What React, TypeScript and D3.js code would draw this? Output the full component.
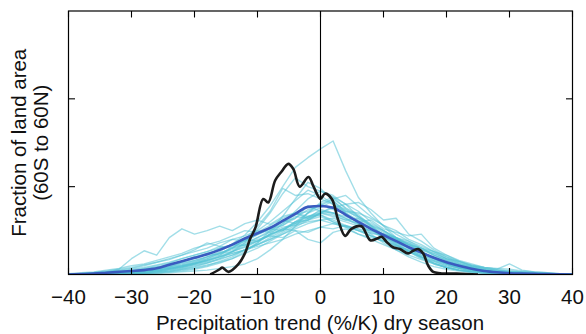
import React from 'react';
import * as d3 from 'd3';

// x grid (precipitation trend, %/K) shared by the model curves
const trendGrid = [-40,-38,-36,-34,-32,-30,-28,-26,-24,-22,-20,-18,-16,-14,-12,-10,-8,-6,-4,-2,0,2,4,6,8,10,12,14,16,18,20,22,24,26,28,30,32,34,36,38,40];

// individual model curves (fraction of land area, arbitrary units; y ticks at 1 and 2)
const run01 = [0,0.01,0.02,0.03,0.06,0.18,0.27,0.22,0.42,0.52,0.46,0.50,0.55,0.50,0.58,0.62,0.57,0.66,0.70,0.64,0.68,0.60,0.55,0.50,0.44,0.40,0.33,0.27,0.20,0.15,0.10,0.07,0.04,0.03,0.02,0.01,0.01,0.005,0,0,0];
const run02 = [0,0,0.005,0.01,0.015,0.02,0.03,0.05,0.07,0.10,0.14,0.20,0.26,0.35,0.45,0.60,0.78,1.00,1.22,1.33,1.43,1.52,1.18,0.88,0.70,0.55,0.42,0.30,0.20,0.13,0.08,0.05,0.03,0.02,0.01,0.01,0.005,0,0,0,0];
const run03 = [0,0,0,0.005,0.01,0.01,0.02,0.03,0.04,0.06,0.09,0.13,0.18,0.26,0.36,0.52,0.70,0.92,1.10,1.00,0.95,0.88,0.75,0.66,0.55,0.45,0.36,0.27,0.20,0.13,0.08,0.05,0.03,0.02,0.01,0.005,0,0,0,0,0];
const run04 = [0,0.01,0.01,0.02,0.04,0.03,0.06,0.09,0.08,0.14,0.18,0.24,0.22,0.32,0.38,0.45,0.52,0.58,0.68,0.72,0.80,0.74,0.70,0.58,0.54,0.44,0.40,0.30,0.26,0.18,0.14,0.09,0.06,0.04,0.03,0.02,0.01,0.01,0,0,0];
const run05 = [0,0.01,0.02,0.03,0.04,0.06,0.08,0.11,0.14,0.18,0.22,0.26,0.30,0.34,0.33,0.40,0.44,0.42,0.50,0.48,0.54,0.52,0.56,0.50,0.47,0.44,0.40,0.36,0.30,0.26,0.20,0.15,0.10,0.07,0.05,0.03,0.03,0.02,0.01,0.005,0];
const run06 = [0,0.005,0.01,0.02,0.03,0.04,0.06,0.08,0.12,0.15,0.20,0.24,0.28,0.34,0.40,0.38,0.46,0.52,0.50,0.40,0.36,0.48,0.52,0.46,0.42,0.38,0.34,0.28,0.25,0.20,0.15,0.10,0.07,0.05,0.03,0.02,0.01,0.01,0.005,0,0];
const run07 = [0,0,0.005,0.01,0.01,0.02,0.03,0.04,0.06,0.08,0.11,0.14,0.18,0.22,0.28,0.34,0.40,0.48,0.56,0.64,0.70,0.76,0.80,0.82,0.74,0.62,0.64,0.46,0.38,0.28,0.20,0.13,0.09,0.06,0.04,0.03,0.02,0.01,0.005,0,0];
const run08 = [0,0,0.005,0.01,0.02,0.02,0.04,0.05,0.07,0.10,0.13,0.16,0.21,0.26,0.31,0.38,0.45,0.52,0.60,0.66,0.72,0.70,0.66,0.60,0.62,0.52,0.48,0.44,0.46,0.30,0.22,0.15,0.10,0.07,0.05,0.04,0.03,0.02,0.01,0.005,0];
const run09 = [0,0,0,0,0.005,0.01,0.01,0.02,0.03,0.05,0.07,0.10,0.15,0.20,0.28,0.36,0.46,0.58,0.72,0.86,0.95,0.90,0.80,0.66,0.56,0.44,0.34,0.26,0.18,0.12,0.08,0.05,0.03,0.02,0.01,0.005,0,0,0,0,0];
const run10 = [0.01,0.02,0.03,0.05,0.07,0.10,0.12,0.16,0.20,0.24,0.30,0.34,0.38,0.44,0.50,0.48,0.56,0.64,0.70,0.66,0.68,0.62,0.56,0.52,0.44,0.38,0.32,0.26,0.20,0.15,0.10,0.07,0.05,0.03,0.02,0.015,0.01,0.01,0.005,0,0];
const run11 = [0,0.005,0.01,0.015,0.02,0.04,0.05,0.08,0.10,0.13,0.16,0.20,0.25,0.28,0.36,0.42,0.48,0.62,0.58,0.70,0.76,0.84,0.72,0.66,0.58,0.50,0.42,0.36,0.28,0.22,0.16,0.11,0.08,0.05,0.03,0.02,0.015,0.01,0.005,0,0];
const run12 = [0,0,0.005,0.01,0.015,0.02,0.03,0.05,0.07,0.09,0.12,0.17,0.22,0.30,0.40,0.55,0.72,0.98,0.90,0.92,0.86,0.80,0.70,0.62,0.52,0.42,0.34,0.26,0.19,0.13,0.08,0.05,0.03,0.02,0.01,0.005,0,0,0,0,0];
const run13 = [0,0,0.005,0.01,0.01,0.02,0.03,0.04,0.06,0.08,0.12,0.15,0.20,0.24,0.28,0.34,0.40,0.46,0.52,0.58,0.62,0.64,0.60,0.55,0.50,0.46,0.40,0.34,0.28,0.24,0.18,0.15,0.11,0.08,0.06,0.12,0.05,0.03,0.02,0.01,0];
const run14 = [0,0,0.005,0.01,0.02,0.03,0.04,0.06,0.09,0.12,0.16,0.20,0.24,0.30,0.34,0.42,0.50,0.56,0.64,0.74,0.78,0.86,0.76,0.68,0.56,0.50,0.40,0.34,0.26,0.19,0.13,0.09,0.06,0.04,0.03,0.02,0.01,0.01,0.005,0,0];
const run15 = [0,0,0,0,0,0.005,0.01,0.01,0.02,0.03,0.04,0.05,0.07,0.09,0.12,0.18,0.28,0.40,0.55,0.70,0.82,0.88,0.80,0.72,0.60,0.50,0.42,0.34,0.26,0.18,0.12,0.07,0.04,0.03,0.02,0.01,0.005,0,0,0,0];
const run16 = [0,0.005,0.01,0.02,0.03,0.05,0.07,0.10,0.13,0.18,0.22,0.26,0.32,0.30,0.40,0.46,0.52,0.56,0.66,0.64,0.74,0.70,0.64,0.56,0.50,0.42,0.36,0.30,0.22,0.18,0.12,0.08,0.06,0.04,0.03,0.02,0.01,0.01,0.005,0,0];
const run17 = [0,0,0,0.005,0.01,0.015,0.02,0.04,0.06,0.09,0.13,0.18,0.24,0.30,0.38,0.50,0.60,0.72,0.84,0.96,0.90,0.80,0.74,0.64,0.56,0.48,0.40,0.32,0.26,0.18,0.12,0.08,0.05,0.03,0.02,0.015,0.01,0.005,0,0,0];
const run18 = [0,0.01,0.02,0.04,0.06,0.08,0.11,0.14,0.18,0.22,0.28,0.36,0.32,0.40,0.44,0.50,0.48,0.54,0.56,0.60,0.62,0.58,0.54,0.50,0.44,0.38,0.32,0.28,0.22,0.16,0.12,0.08,0.06,0.04,0.03,0.02,0.015,0.01,0.005,0,0];
const run19 = [0,0,0,0.005,0.01,0.01,0.02,0.03,0.04,0.06,0.08,0.11,0.14,0.18,0.24,0.30,0.38,0.46,0.54,0.62,0.70,0.78,0.72,0.70,0.64,0.56,0.50,0.40,0.34,0.26,0.18,0.12,0.08,0.05,0.03,0.02,0.02,0.01,0.005,0,0];
const run20 = [0,0.005,0.01,0.02,0.025,0.04,0.05,0.07,0.12,0.14,0.20,0.22,0.30,0.34,0.42,0.46,0.54,0.60,0.64,0.78,0.72,0.70,0.64,0.58,0.48,0.44,0.36,0.30,0.24,0.16,0.12,0.08,0.05,0.03,0.02,0.015,0.01,0.005,0,0,0];
const run21 = [0,0,0,0.005,0.01,0.015,0.02,0.03,0.05,0.07,0.10,0.13,0.17,0.22,0.28,0.34,0.42,0.50,0.60,0.70,0.80,0.86,0.90,0.78,0.66,0.56,0.46,0.38,0.30,0.22,0.16,0.11,0.08,0.05,0.04,0.03,0.02,0.01,0.005,0,0];
const run22 = [0,0.01,0.02,0.03,0.05,0.07,0.10,0.14,0.17,0.22,0.26,0.30,0.36,0.40,0.38,0.46,0.52,0.50,0.58,0.62,0.66,0.60,0.54,0.46,0.40,0.34,0.28,0.22,0.17,0.12,0.08,0.05,0.04,0.03,0.02,0.01,0.01,0.005,0,0,0];
const run23 = [0,0,0.005,0.01,0.015,0.02,0.03,0.05,0.07,0.09,0.12,0.16,0.20,0.26,0.32,0.38,0.44,0.52,0.58,0.66,0.70,0.68,0.62,0.58,0.52,0.46,0.40,0.34,0.30,0.24,0.18,0.14,0.10,0.08,0.07,0.06,0.04,0.03,0.02,0.01,0];
const run24 = [0,0,0,0,0.005,0.01,0.01,0.02,0.03,0.04,0.06,0.09,0.13,0.18,0.26,0.36,0.50,0.66,0.86,1.05,0.98,0.84,0.70,0.58,0.46,0.36,0.28,0.20,0.14,0.09,0.06,0.04,0.02,0.01,0.01,0.005,0,0,0,0,0];
const run25 = [0,0.005,0.01,0.015,0.02,0.03,0.05,0.06,0.09,0.11,0.15,0.18,0.24,0.26,0.34,0.38,0.46,0.50,0.60,0.62,0.70,0.66,0.62,0.64,0.54,0.46,0.42,0.34,0.30,0.22,0.17,0.12,0.09,0.06,0.04,0.03,0.02,0.015,0.01,0.005,0];
const run26 = [0,0,0.005,0.01,0.02,0.03,0.04,0.06,0.08,0.10,0.13,0.16,0.20,0.24,0.28,0.32,0.36,0.40,0.46,0.50,0.54,0.58,0.55,0.52,0.50,0.46,0.42,0.38,0.32,0.26,0.22,0.16,0.12,0.08,0.06,0.04,0.03,0.02,0.01,0.005,0];
const modelRuns = [run01,run02,run03,run04,run05,run06,run07,run08,run09,run10,run11,run12,run13,run14,run15,run16,run17,run18,run19,run20,run21,run22,run23,run24,run25,run26];

// multi-model mean
const modelMean = [0,0.005,0.01,0.02,0.03,0.04,0.05,0.07,0.11,0.15,0.19,0.23,0.28,0.34,0.41,0.47,0.53,0.61,0.69,0.77,0.78,0.76,0.68,0.60,0.52,0.45,0.38,0.31,0.25,0.19,0.14,0.10,0.065,0.04,0.025,0.015,0.01,0.007,0.004,0.002,0];

// observations
const obsTrend = [-17.5,-16,-15.6,-14.6,-13,-12,-11.2,-10.3,-9.1,-8.3,-7.2,-6.2,-5.1,-4.3,-3.3,-1.9,-1.1,0,0.7,1.8,2.8,3.9,4.9,6.5,7.9,9,9.7,10.5,11.5,12.6,13.9,14.7,15.5,16.3,17.1,17.9,19,21.6,25];
const obsFraction = [0,0.06,0.08,0.03,0.12,0.24,0.40,0.54,0.86,0.82,1.07,1.17,1.26,1.20,1.00,1.11,1.00,0.86,0.92,0.86,0.62,0.44,0.52,0.55,0.39,0.41,0.43,0.37,0.31,0.29,0.24,0.27,0.29,0.24,0.10,0.03,0.015,0.01,0];

const xTicks = [-40,-30,-20,-10,0,10,20,30,40];
const yTicks = [1,2];
const xTitle = 'Precipitation trend (%/K) dry season';
const yTitle1 = 'Fraction of land area';
const yTitle2 = '(60S to 60N)';

export default function App() {
  const W = 586, H = 334;
  const L = 68.5, R = 572.5, T = 11, B = 274.5;
  const x = d3.scaleLinear().domain([-40, 40]).range([L, R]);
  const y = d3.scaleLinear().domain([0, 3]).range([B, T]);
  const gridLine = d3.line<number>().x((_, i) => x(trendGrid[i])).y(d => y(d));
  const meanLine = d3.line<number>().x((_, i) => x(trendGrid[i])).y(d => y(d)).curve(d3.curveMonotoneX);
  const obsLine = d3.line<number>().x((_, i) => x(obsTrend[i])).y(d => y(d)).curve(d3.curveCatmullRom.alpha(0.5));
  const font = '"Liberation Sans", Arial, sans-serif';
  const fmt = (v: number) => (v < 0 ? '\u2212' + Math.abs(v) : String(v));
  const tk = 6.5;
  return (
    <svg width={W} height={H} style={{ position: 'absolute', left: 0, top: 0, background: '#fff' }} fontFamily={font}>
      <defs>
        <clipPath id="plot"><rect x={L} y={T} width={R - L} height={B - T} /></clipPath>
      </defs>
      <g clipPath="url(#plot)">
        {modelRuns.map((r, k) => (
          <path key={k} d={gridLine(r) || ''} fill="none" stroke="#56c2d6" strokeOpacity={0.55} strokeWidth={1.4} strokeLinejoin="round" />
        ))}
        <path d={meanLine(modelMean) || ''} fill="none" stroke="#3a5bc0" strokeWidth={2.6} />
        <path d={obsLine(obsFraction) || ''} fill="none" stroke="#1c1c1c" strokeWidth={2.6} strokeLinejoin="round" />
      </g>
      <line x1={x(0)} x2={x(0)} y1={T} y2={B} stroke="#000" strokeWidth={1.1} />
      {xTicks.map(t => (
        <g key={t}>
          <line x1={x(t)} x2={x(t)} y1={B} y2={B - tk} stroke="#000" strokeWidth={1.1} />
          <line x1={x(t)} x2={x(t)} y1={T} y2={T + tk} stroke="#000" strokeWidth={1.1} />
          <text x={x(t)} y={304} textAnchor="middle" fontSize={20.5} fill="#111">{fmt(t)}</text>
        </g>
      ))}
      {yTicks.map(t => (
        <g key={t}>
          <line x1={L} x2={L + tk} y1={y(t)} y2={y(t)} stroke="#000" strokeWidth={1.1} />
          <line x1={R} x2={R - tk} y1={y(t)} y2={y(t)} stroke="#000" strokeWidth={1.1} />
        </g>
      ))}
      <rect x={L} y={T} width={R - L} height={B - T} fill="none" stroke="#000" strokeWidth={1.2} />
      <text x={(L + R) / 2 - 0.5} y={330} textAnchor="middle" fontSize={20.5} fill="#111">{xTitle}</text>
      <text transform={`translate(26,${(T + B) / 2}) rotate(-90)`} textAnchor="middle" fontSize={20.5} fill="#111">{yTitle1}</text>
      <text transform={`translate(47.5,${(T + B) / 2}) rotate(-90)`} textAnchor="middle" fontSize={20.5} fill="#111">{yTitle2}</text>
    </svg>
  );
}
